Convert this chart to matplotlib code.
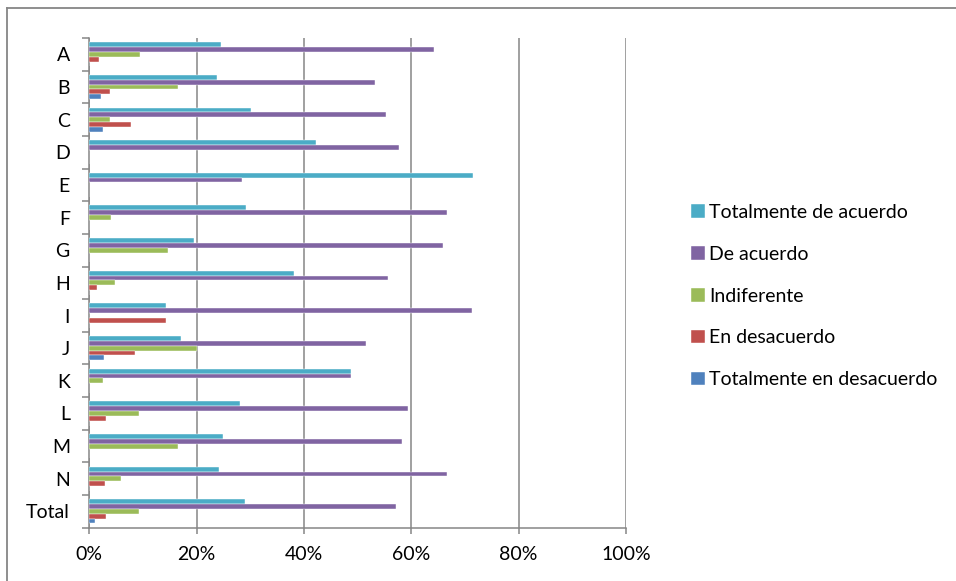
import numpy as np
import matplotlib
matplotlib.use('Agg')
import matplotlib.pyplot as plt
from matplotlib.lines import Line2D

plt.rcParams['font.family'] = ['Lato', 'DejaVu Sans']

categorias = ['A', 'B', 'C', 'D', 'E', 'F', 'G', 'H', 'I', 'J', 'K', 'L', 'M', 'N', 'Total']
series = ['Totalmente de acuerdo', 'De acuerdo', 'Indiferente', 'En desacuerdo', 'Totalmente en desacuerdo']
colores = ['#4BACC6', '#8064A2', '#9BBB59', '#C0504D', '#4F81BD']

tot_acuerdo = [24.5, 23.8, 30.2, 42.2, 71.5, 29.2, 19.5, 38.1, 14.3, 17.0, 48.8, 28.1, 24.9, 24.2, 29.1]
de_acuerdo = [64.2, 53.2, 55.3, 57.7, 28.5, 66.7, 65.9, 55.6, 71.4, 51.5, 48.8, 59.3, 58.3, 66.7, 57.2]
indiferente = [9.4, 16.6, 3.8, 0, 0, 4.0, 14.6, 4.7, 0, 20.0, 2.5, 9.3, 16.6, 6.0, 9.3]
en_desacuerdo = [1.8, 3.9, 7.8, 0, 0, 0, 0, 1.5, 14.3, 8.5, 0, 3.1, 0, 2.9, 3.2]
tot_desacuerdo = [0, 2.2, 2.5, 0, 0, 0, 0, 0, 0, 2.7, 0, 0, 0, 0, 1.0]

valores = [tot_acuerdo, de_acuerdo, indiferente, en_desacuerdo, tot_desacuerdo]

fig = plt.figure(figsize=(9.56, 5.81), dpi=100)
ax = fig.add_axes([0.0934, 0.0917, 0.5614, 0.8429])

y = np.arange(len(categorias))
h = 0.148
for k in range(5):
    ax.barh(y + (k - 2) * h, np.array(valores[k]) / 100, height=h,
            color=colores[k], label=series[k], zorder=3,
            edgecolor='white', linewidth=0.3)

ax.set_xlim(0, 1)
ax.set_ylim(len(categorias) - 0.5, -0.5)
ax.set_xticks(np.arange(0, 1.01, 0.2))
ax.set_xticklabels(['0%', '20%', '40%', '60%', '80%', '100%'])
ax.set_yticks(y)
ax.set_yticklabels(categorias)
ax.set_yticks(np.arange(-0.5, len(categorias), 1), minor=True)

gris = '#868686'
ax.grid(axis='x', color=gris, linewidth=1.1, zorder=0)
for s in ['top', 'right']:
    ax.spines[s].set_visible(False)
for s in ['left', 'bottom']:
    ax.spines[s].set_color(gris)
    ax.spines[s].set_linewidth(1.1)

fs = 14
ax.tick_params(axis='y', which='major', length=0, pad=14, labelsize=fs)
ax.tick_params(axis='y', which='minor', length=5, color=gris, width=1.1)
ax.tick_params(axis='x', which='major', length=4, color=gris, width=1.1, pad=9, labelsize=fs)

fig.legend(loc='center left', bbox_to_anchor=(0.7228, 0.4905), frameon=False,
           fontsize=fs, handlelength=0.7, handleheight=0.7, handletextpad=0.25,
           labelspacing=1.28, borderpad=0, borderaxespad=0)

fig.add_artist(Line2D([0.0075, 0.0075], [0, 0.987], color=gris, linewidth=1.3))
fig.add_artist(Line2D([0.0075, 1.0], [0.987, 0.987], color=gris, linewidth=1.3))

fig.savefig('out.png', dpi=100)
